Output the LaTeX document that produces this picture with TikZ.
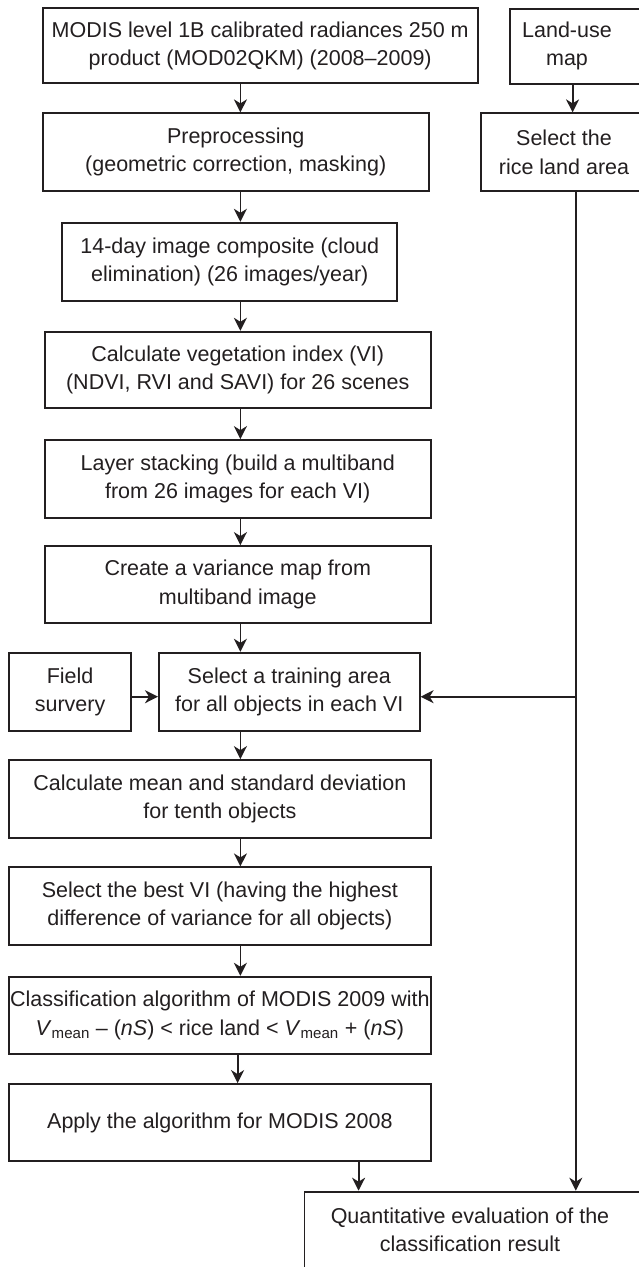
\documentclass[tikz,border=0pt]{standalone}
\usepackage{fontspec}
\setmainfont{Liberation Sans}
\usetikzlibrary{arrows.meta}
\definecolor{ink}{HTML}{231F20}
\begin{document}
\begin{tikzpicture}[x=1pt,y=-1pt,
  boxnode/.style={draw=ink, text=ink, line width=1.8pt, inner sep=0pt, align=center,
    font=\fontsize{21.5}{28.5}\selectfont},
  txtnode/.style={text=ink, inner sep=0pt, align=center, font=\fontsize{21.5}{28.5}\selectfont},
  arr/.style={draw=ink, line width=1.8pt, -{Stealth[length=13pt,width=13pt,inset=4pt]}}]
\useasboundingbox (0,0) rectangle (639,1267);
\clip (0,0) rectangle (639,1267);
\fill[white] (0,0) rectangle (639,1267);

\coordinate (ax) at (240.4,0);
\coordinate (ax2) at (237.6,0);
\coordinate (rx) at (575.8,0);
\coordinate (lx) at (572.6,0);
\coordinate (qx) at (358.6,0);
\coordinate (by) at (0,696.7);

\node[boxnode, minimum width=434.8pt, minimum height=75pt] (modis) at (260.2,45.8)
  {MODIS level 1B calibrated radiances 250 m\\product (MOD02QKM) (2008–2009)};
\node[boxnode, minimum width=160pt, minimum height=75pt, anchor=north west] (land) at (509.4,8.3) {};
\node[txtnode] (landtext) at (567,45.8) {Land-use\\map};

\node[boxnode, minimum width=385.9pt, minimum height=77.7pt] (pre) at (235.75,152.15)
  {Preprocessing\\(geometric correction, masking)};
\node[boxnode, minimum width=166pt, minimum height=77.7pt] (rice) at (564,152.15)
  {Select the\\rice land area};

\node[boxnode, minimum width=335pt, minimum height=78.3pt] (comp) at (229.8,261.85)
  {14-day image composite (cloud\\elimination) (26 images/year)};
\node[boxnode, minimum width=385.9pt, minimum height=76.6pt] (vi) at (237.75,370)
  {Calculate vegetation index (VI)\\(NDVI, RVI and SAVI) for 26 scenes};
\node[boxnode, minimum width=385.9pt, minimum height=78.3pt] (layer) at (237.75,479.15)
  {Layer stacking (build a multiband\\from 26 images for each VI)};
\node[boxnode, minimum width=385.9pt, minimum height=77.3pt] (var) at (237.75,584.65)
  {Create a variance map from\\multiband image};

\node[boxnode, minimum width=122.2pt, minimum height=78pt] (field) at (70.1,691.7)
  {Field\\survery};
\node[boxnode, minimum width=260.8pt, minimum height=78pt] (train) at (289.3,691.7)
  {Select a training area\\for all objects in each VI};

\node[boxnode, minimum width=421.7pt, minimum height=77.7pt] (mean) at (219.85,798.85)
  {Calculate mean and standard deviation\\for tenth objects};
\node[boxnode, minimum width=421.7pt, minimum height=77.7pt] (best) at (219.85,906.15)
  {Select the best VI (having the highest\\difference of variance for all objects)};
\node[boxnode, minimum width=421.7pt, minimum height=77.3pt] (class) at (219.85,1015.35)
  {Classification algorithm of MODIS 2009 with\\\textit{V}\textsubscript{mean} – (\textit{nS}) < rice land < \textit{V}\textsubscript{mean} + (\textit{nS})};
\node[boxnode, minimum width=421.7pt, minimum height=77pt] (apply) at (219.85,1122.5)
  {Apply the algorithm for MODIS 2008};

\node[boxnode, minimum width=400pt, minimum height=120pt, anchor=north west] (quant) at (303.6,1190.7) {};
\node[txtnode] (quanttext) at (470,1230) {Quantitative evaluation of the\\classification result};

% connectors
\draw[arr] (modis.south -| ax) -- (pre.north -| ax);
\draw[arr] (land.south -| lx) -- (rice.north -| lx);
\draw[arr] (pre.south -| ax) -- (comp.north -| ax);
\draw[arr] (comp.south -| ax) -- (vi.north -| ax);
\draw[arr] (vi.south -| ax) -- (layer.north -| ax);
\draw[arr] (layer.south -| ax) -- (var.north -| ax);
\draw[arr] (var.south -| ax) -- (train.north -| ax);
\draw[arr] (train.south -| ax) -- (mean.north -| ax);
\draw[arr] (mean.south -| ax) -- (best.north -| ax);
\draw[arr] (best.south -| ax) -- (class.north -| ax);
\draw[arr] (class.south -| ax2) -- (apply.north -| ax2);
\draw[arr] (field.east |- by) -- (train.west |- by);
\draw[arr] (rice.south -| rx) -- (quant.north -| rx);
\draw[arr] (rx |- by) -- (train.east |- by);
\draw[arr] (apply.south -| qx) -- (quant.north -| qx);
\end{tikzpicture}
\end{document}
